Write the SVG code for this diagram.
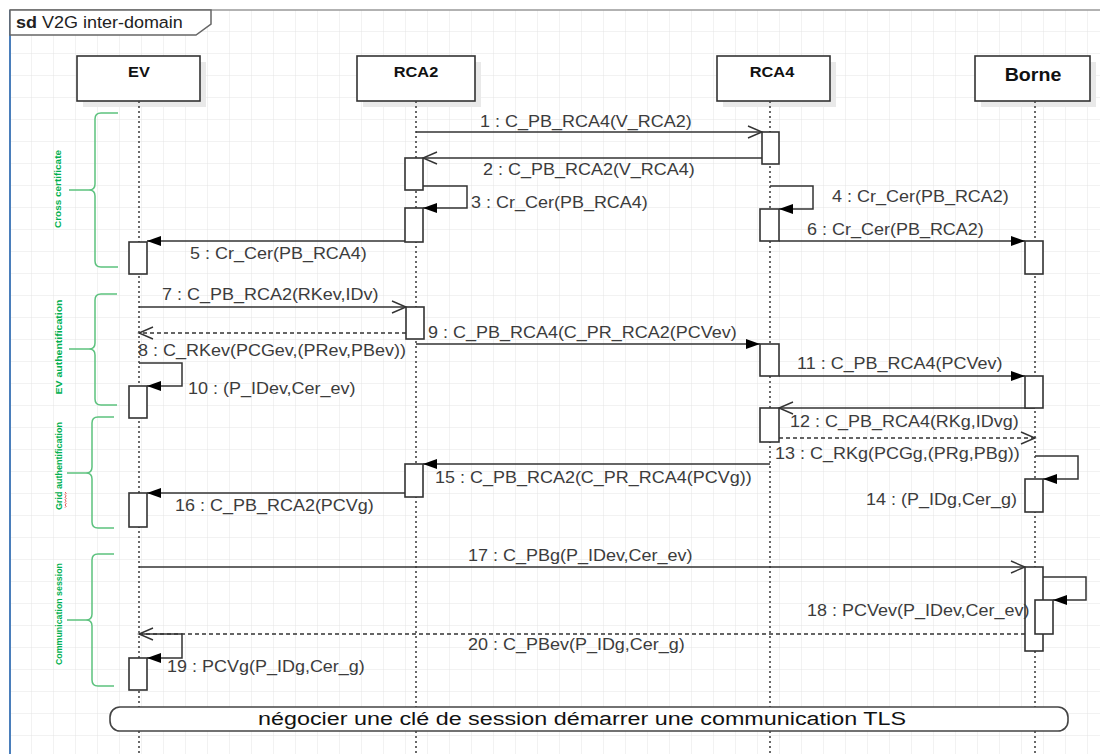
<svg xmlns="http://www.w3.org/2000/svg" width="1100" height="754" viewBox="0 0 1100 754">
<style>
.m{font-family:"Liberation Sans",Arial,sans-serif;font-size:16.5px;fill:#3c3c3c}
.h{font-family:"Liberation Sans",Arial,sans-serif;font-size:15px;font-weight:bold;fill:#111;text-anchor:middle}
.g{font-family:"Liberation Sans",Arial,sans-serif;font-size:9.5px;font-weight:bold;fill:#00b050;text-anchor:middle}
.ll{stroke:#444;stroke-width:1.6;stroke-dasharray:2 3;fill:none}
.act{fill:#fff;stroke:#333;stroke-width:1.6}
.head{fill:#fff;stroke:#333;stroke-width:1.6}
.shadow{fill:#e9e9e9}
.msg{stroke:#333;stroke-width:1.5;fill:none}
.dash{stroke-dasharray:4 3}
.brace{stroke:#5cc27e;stroke-width:1.5;fill:none}
</style>
<defs>
<pattern id="grid" x="10" y="10" width="22" height="22" patternUnits="userSpaceOnUse">
<path d="M22,0 V22 H0" fill="none" stroke="#e4e4e4" stroke-width="1"/>
</pattern>
<marker id="fa" markerWidth="15" markerHeight="11" refX="14" refY="5.5" orient="auto" markerUnits="userSpaceOnUse">
<path d="M0,0.5 L14,5.5 L0,10.5 Z" fill="#000"/>
</marker>
<marker id="oa" markerWidth="17" markerHeight="15" refX="15" refY="7" orient="auto" markerUnits="userSpaceOnUse">
<path d="M1,1 L15,7 L1,13" fill="none" stroke="#333" stroke-width="1.4"/>
</marker>
</defs>
<rect x="0" y="0" width="1100" height="754" fill="#fff"/>
<rect x="10" y="10" width="1090" height="744" fill="url(#grid)"/>
<g id="frame">
<line x1="10" y1="10" x2="1100" y2="10" stroke="#999" stroke-width="1.5"/>
<line x1="10" y1="10" x2="10" y2="754" stroke="#4a7ebb" stroke-width="2"/>
<path d="M10,10 H211 V24 L196,35 H10 Z" fill="#fff" stroke="#666" stroke-width="1.5"/>
<text transform="matrix(1.09 0 0 1 16 28)" font-family="Liberation Sans,Arial,sans-serif" font-size="16.5" fill="#222"><tspan font-weight="bold">sd</tspan> V2G inter-domain</text>
</g>
<g id="EV">
<rect class="shadow" x="83" y="62" width="123" height="45"/>
<rect class="head" x="77" y="56" width="123" height="45"/>
<text class="h" transform="matrix(1.09 0 0 1 139 77)">EV</text>
<line class="ll" x1="139" y1="101" x2="139" y2="754"/>
</g>
<g id="RCA2">
<rect class="shadow" x="363" y="62" width="118" height="45"/>
<rect class="head" x="357" y="56" width="118" height="45"/>
<text class="h" transform="matrix(1.09 0 0 1 416 77)">RCA2</text>
<line class="ll" x1="416" y1="101" x2="416" y2="754"/>
</g>
<g id="RCA4">
<rect class="shadow" x="723" y="62" width="113" height="45"/>
<rect class="head" x="717" y="56" width="113" height="45"/>
<text class="h" transform="matrix(1.09 0 0 1 772 77)">RCA4</text>
<line class="ll" x1="770" y1="101" x2="770" y2="754"/>
</g>
<g id="Borne">
<rect class="shadow" x="981" y="62" width="115" height="45"/>
<rect class="head" x="975" y="56" width="115" height="45"/>
<text class="h" transform="matrix(1.09 0 0 1 1033 81)" style="font-size:18px">Borne</text>
<line class="ll" x1="1035" y1="101" x2="1035" y2="754"/>
</g>
<g id="connectors">
<line class="msg" x1="416" y1="132" x2="762" y2="132" marker-end="url(#oa)"/>
<line class="msg" x1="762" y1="158" x2="423" y2="158" marker-end="url(#oa)"/>
<polyline class="msg" points="423,186 467,186 467,208 423,208" marker-end="url(#fa)"/>
<polyline class="msg" points="770,186 813,186 813,209 779,209" marker-end="url(#fa)"/>
<line class="msg" x1="405" y1="241" x2="147" y2="241" marker-end="url(#fa)"/>
<line class="msg" x1="779" y1="241" x2="1025" y2="241" marker-end="url(#fa)"/>
<line class="msg" x1="139" y1="307" x2="406" y2="307" marker-end="url(#oa)"/>
<line class="msg dash" x1="406" y1="333" x2="139" y2="333" marker-end="url(#oa)"/>
<line class="msg" x1="416" y1="344" x2="760" y2="344" marker-end="url(#fa)"/>
<polyline class="msg" points="139,363 182,363 182,386 147,386" marker-end="url(#fa)"/>
<line class="msg" x1="779" y1="376" x2="1025" y2="376" marker-end="url(#fa)"/>
<line class="msg" x1="1035" y1="408" x2="779" y2="408" marker-end="url(#oa)"/>
<line class="msg dash" x1="779" y1="438" x2="1035" y2="438" marker-end="url(#oa)"/>
<polyline class="msg" points="1035,456 1078,456 1078,479 1043,479" marker-end="url(#fa)"/>
<line class="msg" x1="770" y1="464" x2="423" y2="464" marker-end="url(#fa)"/>
<line class="msg" x1="405" y1="493" x2="147" y2="493" marker-end="url(#fa)"/>
<line class="msg" x1="139" y1="567" x2="1025" y2="567" marker-end="url(#oa)"/>
<polyline class="msg" points="1043,577 1086,577 1086,600 1053,600" marker-end="url(#fa)"/>
<line class="msg dash" x1="1025" y1="634" x2="139" y2="634" marker-end="url(#oa)"/>
<polyline class="msg" points="139,634 182,634 182,658 147,658" marker-end="url(#fa)"/>
</g>
<g id="activations">
<rect class="act" x="762" y="132" width="17" height="32"/>
<rect class="act" x="405" y="158" width="18" height="32"/>
<rect class="act" x="405" y="208" width="18" height="34"/>
<rect class="act" x="760" y="209" width="19" height="32"/>
<rect class="act" x="1025" y="241" width="18" height="33"/>
<rect class="act" x="129" y="242" width="18" height="32"/>
<rect class="act" x="406" y="307" width="18" height="32"/>
<rect class="act" x="760" y="344" width="19" height="32"/>
<rect class="act" x="129" y="386" width="18" height="32"/>
<rect class="act" x="1025" y="376" width="18" height="32"/>
<rect class="act" x="760" y="408" width="19" height="34"/>
<rect class="act" x="1025" y="479" width="18" height="33"/>
<rect class="act" x="405" y="464" width="18" height="33"/>
<rect class="act" x="129" y="493" width="18" height="34"/>
<rect class="act" x="1025" y="567" width="18" height="84"/>
<rect class="act" x="1035" y="600" width="18" height="34"/>
<rect class="act" x="129" y="658" width="18" height="32"/>
</g>
<g id="labels">
<text class="m" transform="matrix(1.09 0 0 1 480 127)">1 : C_PB_RCA4(V_RCA2)</text>
<text class="m" transform="matrix(1.09 0 0 1 483 175)">2 : C_PB_RCA2(V_RCA4)</text>
<text class="m" transform="matrix(1.09 0 0 1 471 208)">3 : Cr_Cer(PB_RCA4)</text>
<text class="m" transform="matrix(1.09 0 0 1 832 202)">4 : Cr_Cer(PB_RCA2)</text>
<text class="m" transform="matrix(1.09 0 0 1 190 259)">5 : Cr_Cer(PB_RCA4)</text>
<text class="m" transform="matrix(1.09 0 0 1 807 235)">6 : Cr_Cer(PB_RCA2)</text>
<text class="m" transform="matrix(1.09 0 0 1 162 300)">7 : C_PB_RCA2(RKev,IDv)</text>
<text class="m" transform="matrix(1.09 0 0 1 138 356)">8 : C_RKev(PCGev,(PRev,PBev))</text>
<text class="m" transform="matrix(1.09 0 0 1 428 338)">9 : C_PB_RCA4(C_PR_RCA2(PCVev)</text>
<text class="m" transform="matrix(1.09 0 0 1 188 394)">10 : (P_IDev,Cer_ev)</text>
<text class="m" transform="matrix(1.09 0 0 1 797 369)">11 : C_PB_RCA4(PCVev)</text>
<text class="m" transform="matrix(1.09 0 0 1 790 427)">12 : C_PB_RCA4(RKg,IDvg)</text>
<text class="m" transform="matrix(1.09 0 0 1 775 459)">13 : C_RKg(PCGg,(PRg,PBg))</text>
<text class="m" transform="matrix(1.09 0 0 1 1017 505)" text-anchor="end">14 : (P_IDg,Cer_g)</text>
<text class="m" transform="matrix(1.09 0 0 1 435 483)">15 : C_PB_RCA2(C_PR_RCA4(PCVg))</text>
<text class="m" transform="matrix(1.09 0 0 1 175 511)">16 : C_PB_RCA2(PCVg)</text>
<text class="m" transform="matrix(1.09 0 0 1 468 561)">17 : C_PBg(P_IDev,Cer_ev)</text>
<text class="m" transform="matrix(1.09 0 0 1 807 616)">18 : PCVev(P_IDev,Cer_ev)</text>
<text class="m" transform="matrix(1.09 0 0 1 167 672)">19 : PCVg(P_IDg,Cer_g)</text>
<text class="m" transform="matrix(1.09 0 0 1 468 650)">20 : C_PBev(P_IDg,Cer_g)</text>
</g>
<g id="cross-certificate">
<path class="brace" d="M118,113 H101 Q95,113 95,119 V184 Q95,190 89,190 H69 M89,190 Q95,190 95,196 V261 Q95,267 101,267 H118"/>
<text class="g" transform="translate(61,189) rotate(-90)" textLength="78" lengthAdjust="spacingAndGlyphs">Cross certificate</text>
</g>
<g id="ev-authentification">
<path class="brace" d="M117,294 H101 Q95,294 95,300 V343 Q95,349 89,349 H69 M89,349 Q95,349 95,355 V399 Q95,405 101,405 H117"/>
<text class="g" transform="translate(62,347) rotate(-90)" textLength="95" lengthAdjust="spacingAndGlyphs">EV authentification</text>
</g>
<g id="grid-authentification">
<path class="brace" d="M114,417 H98 Q92,417 92,423 V467 Q92,473 86,473 H67 M86,473 Q92,473 92,479 V522 Q92,528 98,528 H114"/>
<text class="g" transform="translate(62,466) rotate(-90)" textLength="88" lengthAdjust="spacingAndGlyphs">Grid authentification</text>
<path d="M65,492 l1.2,1.3 l-1.2,1.3 l1.2,1.3 l-1.2,1.3 l1.2,1.3 l-1.2,1.3 l1.2,1.3 l-1.2,1.3 l1.2,1.3 l-1.2,1.3 l1.2,1.3 l-1.2,1.3" fill="none" stroke="#e03030" stroke-width="0.8"/>
</g>
<g id="communication-session">
<path class="brace" d="M114,554 H98 Q92,554 92,560 V614 Q92,620 86,620 H67 M86,620 Q92,620 92,626 V680 Q92,686 98,686 H114"/>
<text class="g" transform="translate(62,614) rotate(-90)" textLength="102" lengthAdjust="spacingAndGlyphs">Communication session</text>
</g>
<g id="tls-note">
<rect x="110" y="707" width="958" height="24" rx="10" ry="10" fill="#fff" stroke="#444" stroke-width="1.6"/>
<text x="582" y="725" font-family="Liberation Sans,Arial,sans-serif" font-size="18" fill="#111" text-anchor="middle" textLength="648" lengthAdjust="spacingAndGlyphs">négocier une clé de session démarrer une communication TLS</text>
</g>
</svg>
